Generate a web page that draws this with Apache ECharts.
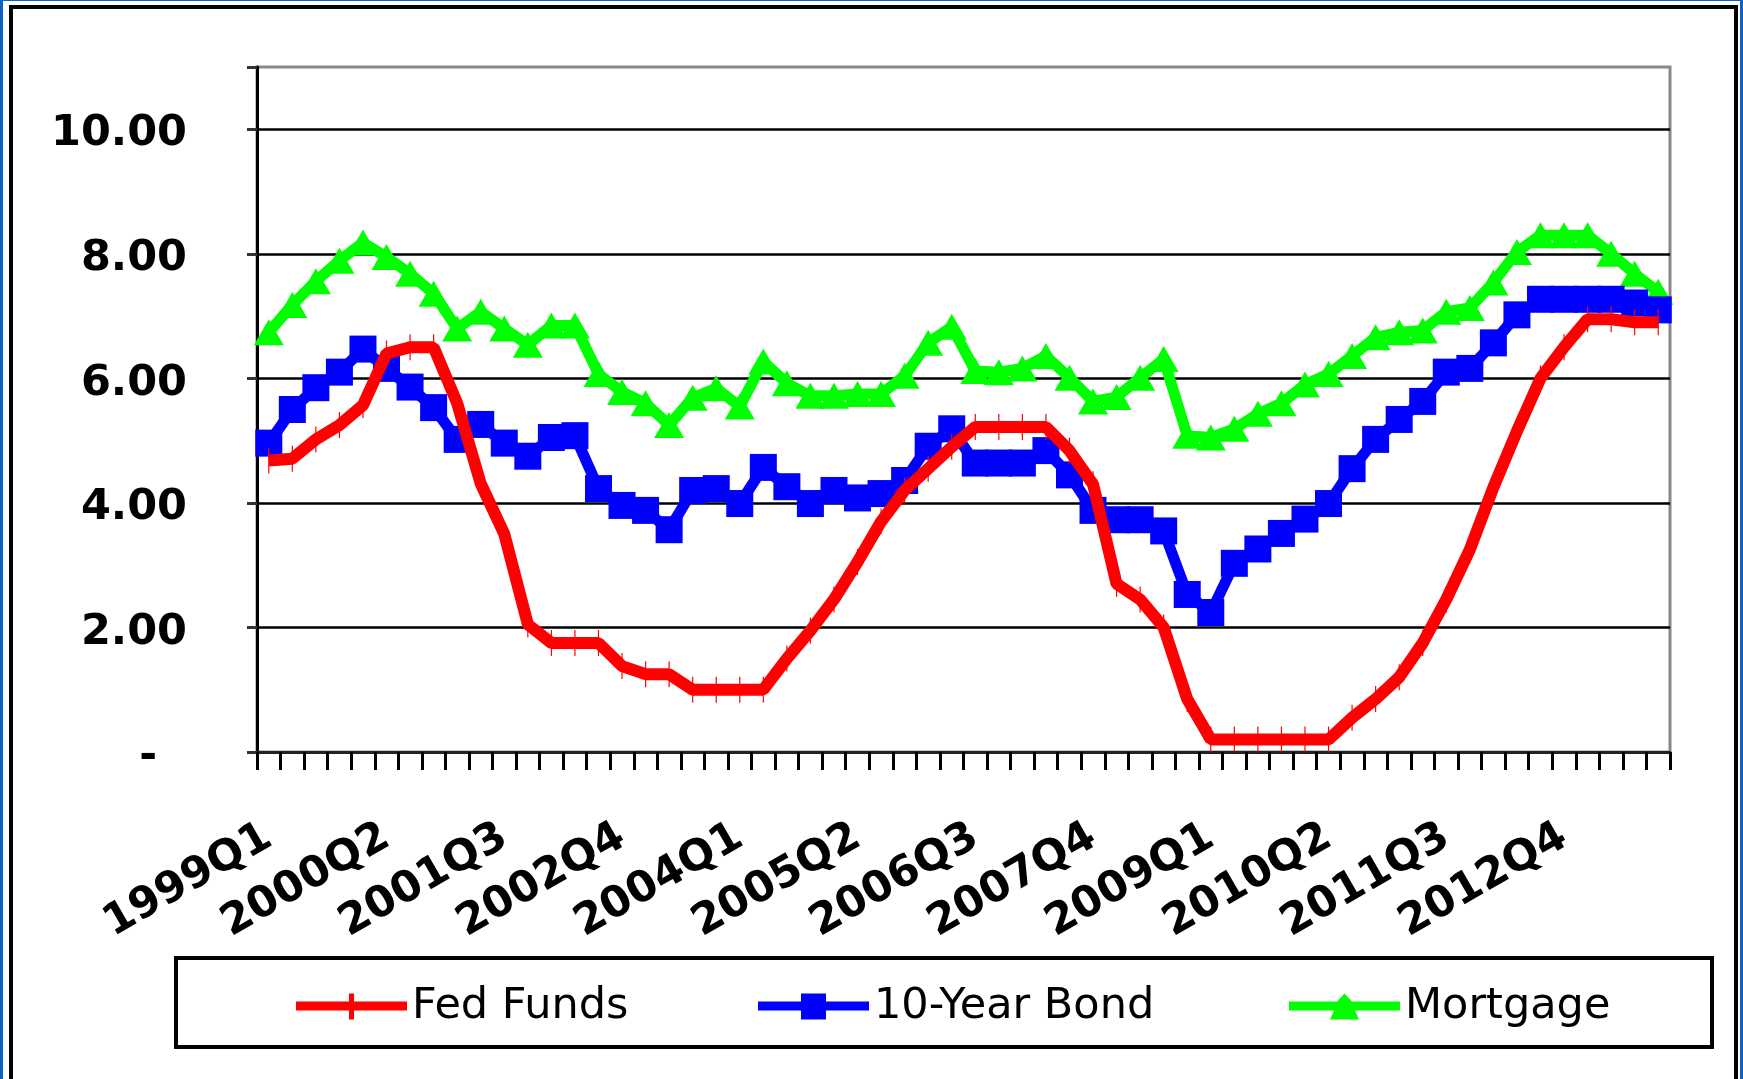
<!DOCTYPE html>
<html>
<head>
<meta charset="utf-8">
<script src="https://cdn.jsdelivr.net/npm/echarts@6/dist/echarts.min.js"></script>
<style>
  html, body { margin: 0; padding: 0; background: #0a62c6; }
  #chart { width: 1743px; height: 1079px; }
</style>
</head>
<body>
<div id="chart"></div>
<script>
const quarters = [
  '1999Q1','1999Q2','1999Q3','1999Q4','2000Q1','2000Q2','2000Q3','2000Q4',
  '2001Q1','2001Q2','2001Q3','2001Q4','2002Q1','2002Q2','2002Q3','2002Q4',
  '2003Q1','2003Q2','2003Q3','2003Q4','2004Q1','2004Q2','2004Q3','2004Q4',
  '2005Q1','2005Q2','2005Q3','2005Q4','2006Q1','2006Q2','2006Q3','2006Q4',
  '2007Q1','2007Q2','2007Q3','2007Q4','2008Q1','2008Q2','2008Q3','2008Q4',
  '2009Q1','2009Q2','2009Q3','2009Q4','2010Q1','2010Q2','2010Q3','2010Q4',
  '2011Q1','2011Q2','2011Q3','2011Q4','2012Q1','2012Q2','2012Q3','2012Q4',
  '2013Q1','2013Q2','2013Q3','2013Q4'
]

const fedFunds = [
  4.68, 4.71, 5.02, 5.25, 5.57, 6.40, 6.50, 6.50, 5.60, 4.31,
  3.50, 2.05, 1.75, 1.75, 1.75, 1.38, 1.25, 1.25, 1.00, 1.00,
  1.00, 1.00, 1.50, 1.95, 2.45, 3.05, 3.70, 4.20, 4.55, 4.90,
  5.22, 5.22, 5.22, 5.22, 4.84, 4.30, 2.70, 2.45, 2.00, 0.85,
  0.20, 0.20, 0.20, 0.20, 0.20, 0.20, 0.55, 0.85, 1.20, 1.75,
  2.45, 3.25, 4.25, 5.15, 6.00, 6.50, 6.95, 6.95, 6.90, 6.90
]

const tenYearBond = [
  4.96, 5.50, 5.85, 6.10, 6.47, 6.16, 5.86, 5.53, 5.02, 5.26,
  4.96, 4.75, 5.05, 5.08, 4.23, 3.96, 3.88, 3.57, 4.20, 4.23,
  3.99, 4.57, 4.26, 3.99, 4.20, 4.08, 4.15, 4.36, 4.91, 5.19,
  4.64, 4.64, 4.64, 4.84, 4.45, 3.88, 3.73, 3.73, 3.55, 2.53,
  2.24, 3.03, 3.26, 3.51, 3.74, 3.99, 4.55, 5.02, 5.34, 5.63,
  6.10, 6.16, 6.57, 7.02, 7.27, 7.27, 7.27, 7.27, 7.21, 7.10
]

const mortgage = [
  6.74, 7.18, 7.56, 7.89, 8.18, 7.95, 7.68, 7.36, 6.80, 7.07,
  6.80, 6.54, 6.85, 6.85, 6.07, 5.78, 5.60, 5.25, 5.69, 5.84,
  5.55, 6.27, 5.92, 5.72, 5.72, 5.75, 5.75, 6.04, 6.57, 6.83,
  6.12, 6.10, 6.16, 6.36, 6.01, 5.63, 5.70, 6.01, 6.31, 5.08,
  5.05, 5.19, 5.43, 5.60, 5.90, 6.07, 6.36, 6.66, 6.74, 6.77,
  7.07, 7.13, 7.54, 8.03, 8.30, 8.30, 8.30, 8.00, 7.68, 7.39
]

const font = 'DejaVu Sans'

// legend icons: line with the series marker, drawn in a 111x26 box
const fedIcon = 'path://M0,8 L53,8 L53,0 L58,0 L58,8 L111,8 L111,17 L58,17 L58,26 L53,26 L53,17 L0,17 Z'
const bondIcon = 'path://M0,8 L43,8 L43,0 L68,0 L68,8 L111,8 L111,17 L68,17 L68,26 L43,26 L43,17 L0,17 Z'
const mortIcon = 'path://M0,8 L48,8 L55.5,0 L63,8 L111,8 L111,17 L66,17 L70,26 L41,26 L45,17 L0,17 Z'

let oChart = echarts.init(document.getElementById('chart'))

let legendBase = {
  top: 980,
  itemWidth: 111,
  itemHeight: 26,
  itemGap: 0,
  textStyle: { fontFamily: font, fontSize: 43, color: '#000' }
}

oChart.setOption({
  backgroundColor: 'transparent',
  animation: false,
  graphic: [
    { type: 'rect', z: -100, shape: { x: 3, y: 1, width: 1737, height: 1200 }, style: { fill: '#fff' } },
    { type: 'rect', z: -99, shape: { x: 11, y: 7, width: 1725, height: 1200 }, style: { fill: 'none', stroke: '#000', lineWidth: 4 } },
    { type: 'rect', z: -98, shape: { x: 176, y: 958, width: 1536, height: 89 }, style: { fill: 'none', stroke: '#000', lineWidth: 4 } }
  ],
  legend: [
    Object.assign({ left: 291, data: [{ name: 'Fed Funds', icon: fedIcon }] }, legendBase),
    Object.assign({ left: 753, data: [{ name: '10-Year Bond', icon: bondIcon }] }, legendBase),
    Object.assign({ left: 1284, data: [{ name: 'Mortgage', icon: mortIcon }] }, legendBase)
  ],
  grid: {
    left: 257, right: 73, top: 67, bottom: 327,
    show: true, borderColor: '#888', borderWidth: 3
  },
  xAxis: {
    type: 'category',
    data: quarters,
    boundaryGap: true,
    axisLine: { lineStyle: { color: '#222', width: 3 } },
    axisTick: { show: true, interval: 0, length: 18, lineStyle: { color: '#000', width: 3 } },
    axisLabel: {
      interval: 4, rotate: 30, margin: 82,
      fontFamily: font, fontSize: 43, fontWeight: 'bold', color: '#000'
    },
    splitLine: { show: false }
  },
  yAxis: {
    type: 'value',
    min: 0, max: 11, interval: 2,
    axisLine: { show: true, lineStyle: { color: '#000', width: 3 } },
    axisTick: { show: true, length: 10, lineStyle: { color: '#333', width: 3 } },
    axisLabel: {
      margin: 70,
      formatter: v => '{t|' + (v === 0 ? '-  ' : (v > 10 ? '' : v.toFixed(2))) + '}',
      rich: {
        t: {
          fontFamily: font, fontSize: 43, fontWeight: 'bold', color: '#000',
          padding: [10, 0, 0, 0]
        }
      }
    },
    splitLine: { showMaxLine: false, lineStyle: { color: '#000', width: 2.5 } }
  },
  series: [
    {
      name: 'Fed Funds', type: 'line', data: fedFunds,
      color: '#ff0000',
      lineStyle: { width: 12 },
      symbol: 'path://M0,0 L4,0 L4,20 L0,20 Z', symbolKeepAspect: true, symbolSize: [6, 26],
      showAllSymbol: true, z: 3
    },
    {
      name: '10-Year Bond', type: 'line', data: tenYearBond,
      color: '#0000ff',
      lineStyle: { width: 11 },
      symbol: 'rect', symbolSize: 27,
      showAllSymbol: true, z: 2
    },
    {
      name: 'Mortgage', type: 'line', data: mortgage,
      color: '#00ff00',
      lineStyle: { width: 11 },
      symbol: 'triangle', symbolSize: [30, 26],
      showAllSymbol: true, z: 1
    }
  ]
})
</script>
</body>
</html>
